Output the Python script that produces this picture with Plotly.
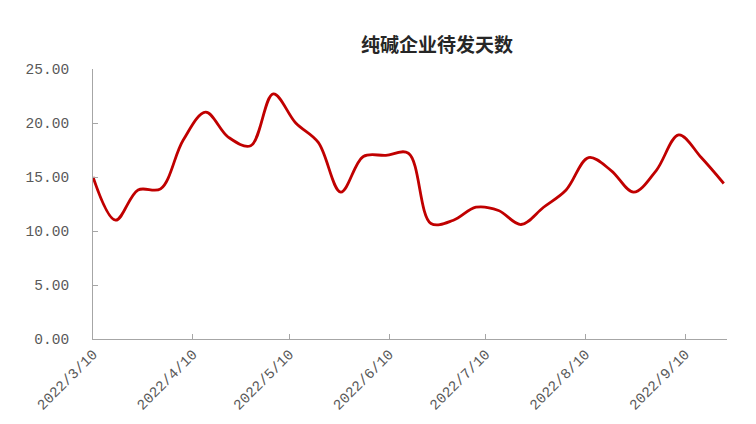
import plotly.graph_objects as go
import pandas as pd

dates = pd.date_range("2022-03-10", "2022-09-22", freq="7D").strftime("%Y-%m-%d").tolist()
values = [15.0, 11.0, 13.8, 13.9, 18.4, 21.0, 18.7, 17.9, 22.7, 20.0, 18.2, 13.6,
          16.9, 17.0, 17.2, 10.7, 11.0, 12.2, 11.9, 10.6, 12.2, 13.8, 16.8, 15.6,
          13.6, 15.6, 18.9, 16.8, 14.4]
tick_vals = ["2022-03-10", "2022-04-10", "2022-05-10", "2022-06-10",
             "2022-07-10", "2022-08-10", "2022-09-10"]
tick_text = ["2022/3/10", "2022/4/10", "2022/5/10", "2022/6/10",
             "2022/7/10", "2022/8/10", "2022/9/10"]
title = "纯碱企业待发天数"

fig = go.Figure()
fig.add_trace(go.Scatter(x=dates, y=values, mode="lines",
                         line=dict(color="#C00000", width=2.8, shape="spline", smoothing=1.0),
                         hoverinfo="x+y"))

axis_font = dict(family="Liberation Mono, DejaVu Sans Mono, monospace", size=14.5, color="#595959")

# page body has an 8px margin, so the figure is sized/offset accordingly
W, H = 740, 408
fig.update_layout(
    width=W, height=H,
    margin=dict(l=85, r=21, t=61, b=77),
    paper_bgcolor="white", plot_bgcolor="white",
    showlegend=False,
    title=dict(text="<b>" + title + "</b>", x=429/W, xanchor="center",
               y=1 - 37/H, yanchor="middle", yref="container",
               font=dict(family="Noto Sans CJK SC", size=19, color="#262626")),
    xaxis=dict(type="date", range=["2022-03-10", "2022-09-23"],
               tickvals=tick_vals, ticktext=tick_text, tickangle=-45,
               showgrid=False, zeroline=False, automargin=False,
               showline=True, linecolor="#A6A6A6", linewidth=1,
               ticks="inside", ticklen=5, tickcolor="#A6A6A6",
               tickfont=axis_font),
    yaxis=dict(range=[0, 25], dtick=5, tickformat=".2f",
               showgrid=False, zeroline=False, automargin=False,
               showline=True, linecolor="#A6A6A6", linewidth=1,
               ticks="inside", ticklen=5, tickcolor="#A6A6A6",
               tickfont=axis_font, ticklabelstandoff=20),
)

fig.write_html("out.html")
